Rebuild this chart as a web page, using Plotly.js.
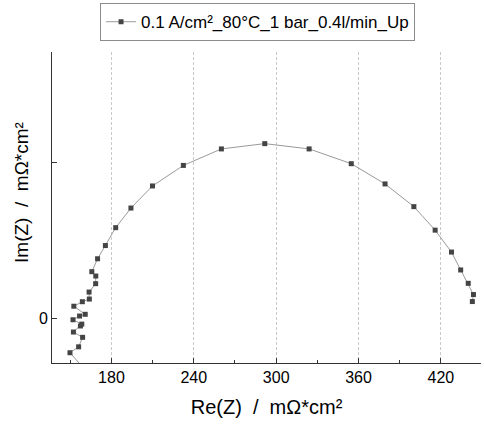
<!DOCTYPE html>
<html>
<head>
<meta charset="utf-8">
<script src="https://cdn.plot.ly/plotly-3.0.1.min.js"></script>
<style>html,body{margin:0;padding:0;background:#fff;}#chart{width:484px;height:424px;}</style>
</head>
<body>
<div id="chart"></div>
<script>
// Nyquist data (Re(Z), Im(Z)) in mΩ*cm²
const seriesName = "0.1 A/cm²_80°C_1 bar_0.4l/min_Up";
const reZ = [160.5, 149.8, 156.1, 159.0, 152.3, 157.4, 158.4, 152.0, 156.8, 160.9, 152.6, 158.8, 163.9, 163.7, 168.5, 168.6, 165.7, 169.9, 175.6, 183.1, 194.2, 209.9, 232.4, 260.1, 291.7, 324.0, 354.7, 379.3, 400.3, 415.8, 427.7, 434.4, 439.9, 443.7, 442.9];
const imZ = [-33.0, -22.3, -18.5, -12.4, -9.0, -5.1, -3.9, -1.1, 1.3, 2.4, 7.6, 10.5, 12.2, 16.7, 22.1, 27.0, 29.8, 38.1, 46.6, 58.1, 70.7, 84.9, 98.1, 108.7, 112.1, 108.7, 99.2, 86.2, 71.6, 56.5, 42.4, 30.9, 22.3, 15.1, 10.6];
const xTickVals = [180, 240, 300, 360, 420];
const yTickVals = [0, 100];
const yTickText = ["0", ""];
const xTitle = "Re(Z)  /  mΩ*cm²";
const yTitle = "Im(Z)  /  mΩ*cm²";

const font = "Arial, 'Liberation Sans', sans-serif";
const yRange = [-28.9, 171];
const trace = {
  x: reZ, y: imZ, type: "scatter", mode: "lines+markers", name: seriesName,
  line: {color: "#9a9a9a", width: 1},
  marker: {symbol: "square", size: 5, color: "#444"},
  cliponaxis: true
};
const layout = {
  width: 484, height: 424,
  margin: {l: 52, r: 3, t: 52, b: 61},
  paper_bgcolor: "#fff", plot_bgcolor: "#fff",
  font: {family: font, color: "#000", size: 16},
  showlegend: true,
  legend: {x: 0.112, y: 1.157, xanchor: "left", yanchor: "top",
    bgcolor: "#fff", bordercolor: "#8c8c8c", borderwidth: 1,
    font: {family: font, size: 17, color: "#000"}, itemwidth: 30},
  xaxis: {
    range: [136.7, 449.2], tickvals: xTickVals, ticks: "inside", ticklen: 5, tickcolor: "#333",
    showline: true, linecolor: "#333", linewidth: 1, mirror: false,
    showgrid: true, gridcolor: "#c8c8c8", griddash: "3px,2px", gridwidth: 1,
    zeroline: false, tickfont: {size: 16},
    minor: {dtick: 30, tick0: 0, ticks: "inside", ticklen: 3, tickcolor: "#333", showgrid: false},
    title: {text: xTitle, font: {size: 20}, standoff: 14}
  },
  yaxis: {
    range: yRange, tickvals: yTickVals, ticktext: yTickText, ticks: "inside", ticklen: 5, tickcolor: "#333",
    showline: true, linecolor: "#333", linewidth: 1, mirror: false,
    showgrid: false, zeroline: false, tickfont: {size: 16}
  },
  yaxis2: {
    overlaying: "y", side: "right", range: yRange, tickvals: yTickVals, showticklabels: false,
    ticks: "inside", ticklen: 5, tickcolor: "#333", showline: false, showgrid: false, zeroline: false
  },
  annotations: [{
    text: yTitle, textangle: -90, xref: "paper", yref: "paper",
    x: -0.07, y: 0.55, xanchor: "center", yanchor: "middle", showarrow: false,
    font: {size: 19, family: font}
  }]
};
Plotly.newPlot("chart", [trace], layout, {displayModeBar: false, staticPlot: true});
</script>
</body>
</html>
